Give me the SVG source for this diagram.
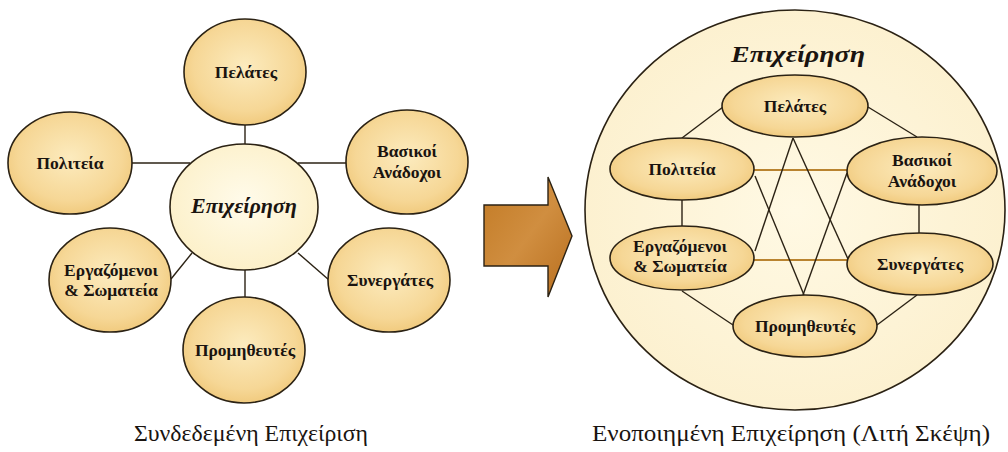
<svg xmlns="http://www.w3.org/2000/svg" width="1008" height="452" viewBox="0 0 1008 452">
  <defs>
    <radialGradient id="gNode" cx="50%" cy="45%" r="60%">
      <stop offset="0" stop-color="#FCEBBE"/>
      <stop offset="0.7" stop-color="#F6D796"/>
      <stop offset="1" stop-color="#EFC676"/>
    </radialGradient>
    <radialGradient id="gCore" cx="50%" cy="45%" r="60%">
      <stop offset="0" stop-color="#FFFBEA"/>
      <stop offset="1" stop-color="#FCEFC6"/>
    </radialGradient>
    <radialGradient id="gBig" cx="50%" cy="50%" r="55%">
      <stop offset="0" stop-color="#FFF9E4"/>
      <stop offset="1" stop-color="#FCF0CE"/>
    </radialGradient>
    <linearGradient id="gArrow" x1="0" y1="0" x2="1" y2="1">
      <stop offset="0" stop-color="#C27A24"/>
      <stop offset="0.5" stop-color="#D08E40"/>
      <stop offset="1" stop-color="#B86E1E"/>
    </linearGradient>
  </defs>
  <style>
    .node { fill: url(#gNode); stroke: #2B2214; stroke-width: 1.6; }
    .core { fill: url(#gCore); stroke: #2B2214; stroke-width: 1.6; }
    .lbl { font-family: "Liberation Serif", "Times New Roman", serif; font-weight: bold; font-size: 17.5px; fill: #1A1410; text-anchor: middle; }
    .ital { font-family: "Liberation Serif", "Times New Roman", serif; font-weight: bold; font-style: italic; fill: #1A1410; text-anchor: middle; }
    .cap { font-family: "Liberation Serif", "Times New Roman", serif; font-size: 24px; fill: #1A1410; text-anchor: middle; }
    .ln { stroke: #2B2214; stroke-width: 1.4; fill: none; }
    .ln2 { stroke: #B9832F; stroke-width: 2; fill: none; }
  </style>

  <rect width="1008" height="452" fill="#FFFFFF"/>

  <!-- Left: connected enterprise, hub and spokes -->
  <g id="left-connectors">
    <line class="ln" x1="245" y1="125" x2="245" y2="144"/>
    <line class="ln" x1="132" y1="163" x2="190" y2="163"/>
    <line class="ln" x1="298" y1="163" x2="346" y2="163"/>
    <line class="ln" x1="171" y1="279" x2="192" y2="253"/>
    <line class="ln" x1="298" y1="253" x2="329" y2="280"/>
    <line class="ln" x1="245" y1="270" x2="245" y2="298"/>
  </g>
  <g id="l-pelates">
    <ellipse class="node" cx="245" cy="72" rx="61" ry="53"/>
    <text class="lbl" x="246" y="78">Πελάτες</text>
  </g>
  <g id="l-politeia">
    <ellipse class="node" cx="70" cy="163" rx="62" ry="51"/>
    <text class="lbl" x="70" y="169">Πολιτεία</text>
  </g>
  <g id="l-anadoxoi">
    <ellipse class="node" cx="407" cy="162" rx="61" ry="52"/>
    <text class="lbl" x="407" y="157">Βασικοί</text>
    <text class="lbl" x="407" y="178">Ανάδοχοι</text>
  </g>
  <g id="l-ergazomenoi">
    <ellipse class="node" cx="110" cy="280" rx="61" ry="52"/>
    <text class="lbl" x="111" y="276">Εργαζόμενοι</text>
    <text class="lbl" x="111" y="296">&amp; Σωματεία</text>
  </g>
  <g id="l-synergates">
    <ellipse class="node" cx="389" cy="280" rx="61" ry="52"/>
    <text class="lbl" x="390" y="286">Συνεργάτες</text>
  </g>
  <g id="l-promitheftes">
    <ellipse class="node" cx="244" cy="350" rx="61" ry="53"/>
    <text class="lbl" x="245" y="356">Προμηθευτές</text>
  </g>
  <g id="l-core">
    <ellipse class="core" cx="244" cy="207" rx="74" ry="63"/>
    <text class="ital" x="244" y="213" font-size="21" textLength="106" lengthAdjust="spacingAndGlyphs">Επιχείρηση</text>
  </g>
  <text class="cap" x="251" y="441" textLength="234" lengthAdjust="spacingAndGlyphs">Συνδεδεμένη Επιχείριση</text>

  <!-- Transition arrow -->
  <g id="arrow">
    <path d="M484 205 H548 V177 L572 236 L548 297 V266 H484 Z" fill="url(#gArrow)" stroke="#2B2214" stroke-width="1.4"/>
  </g>

  <!-- Right: integrated enterprise -->
  <g id="r-frame">
    <ellipse cx="795" cy="210" rx="210" ry="200" fill="url(#gBig)" stroke="#2B2214" stroke-width="1.6"/>
    <text class="ital" x="798" y="62" font-size="24" textLength="134" lengthAdjust="spacingAndGlyphs">Επιχείρηση</text>
  </g>
  <g id="right-connectors">
    <line class="ln" x1="723" y1="107" x2="682" y2="138"/>
    <line class="ln" x1="868" y1="107" x2="917" y2="137"/>
    <line class="ln2" x1="754" y1="170" x2="848" y2="170"/>
    <line class="ln2" x1="754" y1="260" x2="848" y2="260"/>
    <line class="ln" x1="682" y1="200" x2="682" y2="227"/>
    <line class="ln" x1="919" y1="205" x2="919" y2="233"/>
    <line class="ln" x1="682" y1="291" x2="733" y2="325"/>
    <line class="ln" x1="917" y1="295" x2="877" y2="325"/>
    <line class="ln" x1="793" y1="138" x2="755" y2="251"/>
    <line class="ln" x1="793" y1="138" x2="848" y2="259"/>
    <line class="ln" x1="755" y1="176" x2="804" y2="295"/>
    <line class="ln" x1="847" y1="173" x2="803" y2="295"/>
  </g>
  <g id="r-pelates">
    <ellipse class="node" cx="795" cy="106" rx="73" ry="31"/>
    <text class="lbl" x="795" y="112">Πελάτες</text>
  </g>
  <g id="r-politeia">
    <ellipse class="node" cx="682" cy="169" rx="72" ry="31"/>
    <text class="lbl" x="682" y="175">Πολιτεία</text>
  </g>
  <g id="r-anadoxoi">
    <ellipse class="node" cx="922" cy="171" rx="75" ry="34"/>
    <text class="lbl" x="922" y="166">Βασικοί</text>
    <text class="lbl" x="922" y="187">Ανάδοχοι</text>
  </g>
  <g id="r-ergazomenoi">
    <ellipse class="node" cx="682" cy="258" rx="72" ry="32"/>
    <text class="lbl" x="680" y="252">Εργαζόμενοι</text>
    <text class="lbl" x="680" y="272">&amp; Σωματεία</text>
  </g>
  <g id="r-synergates">
    <ellipse class="node" cx="920" cy="264" rx="73" ry="31"/>
    <text class="lbl" x="920" y="270">Συνεργάτες</text>
  </g>
  <g id="r-promitheftes">
    <ellipse class="node" cx="805" cy="326" rx="72" ry="31"/>
    <text class="lbl" x="805" y="332">Προμηθευτές</text>
  </g>
  <text class="cap" x="791" y="441" textLength="398" lengthAdjust="spacingAndGlyphs">Ενοποιημένη Επιχείρηση (Λιτή Σκέψη)</text>
</svg>
